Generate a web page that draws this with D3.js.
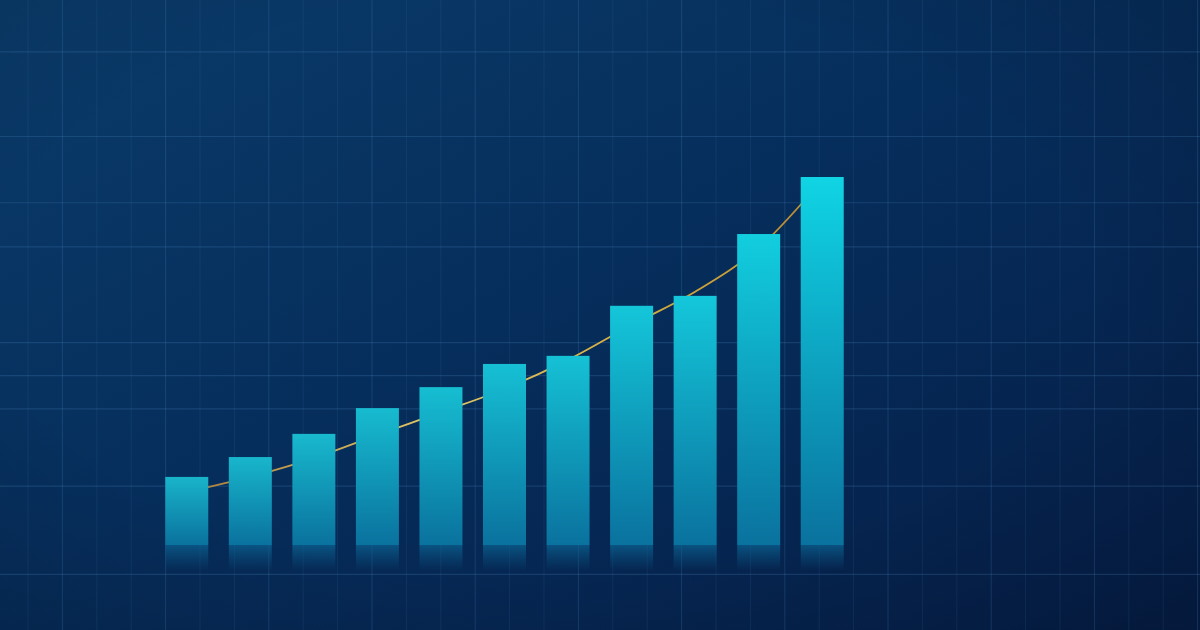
<!DOCTYPE html>
<html>
<head>
<meta charset="utf-8">
<script src="https://cdn.jsdelivr.net/npm/d3@7"></script>
<style>
  html, body { margin: 0; padding: 0; background: #062a55; }
  svg { display: block; }
</style>
</head>
<body>
<svg id="chart" width="1200" height="630"></svg>
<script>
// ---- data ----
const categories = ["P1","P2","P3","P4","P5","P6","P7","P8","P9","P10","P11"];
const values     = [18.5, 23.9, 30.2, 37.2, 42.9, 49.2, 51.4, 65.0, 67.7, 84.5, 100];
const trend      = [14.4, 18.5, 23.6, 29.9, 36.1, 42.4, 50.3, 59.8, 68.8, 80.7, 99.2];
const gridTicksY = [134, 111, 93, 81, 55, 46, 37, 16, -8];

// ---- layout ----
const W = 1200, H = 630;
const margin = { left: 155, right: 346 };
const baseY = 545, topY = 177;

const svg = d3.select("#chart");
const defs = svg.append("defs");

const x = d3.scaleBand()
  .domain(categories)
  .range([margin.left, W - margin.right])
  .paddingInner(0.3234)
  .paddingOuter(0.1617);

const y = d3.scaleLinear().domain([0, 100]).range([baseY, topY]);

// background
const bg = defs.append("linearGradient").attr("id", "bg")
  .attr("x1", "0").attr("y1", "0").attr("x2", "1").attr("y2", "1");
bg.append("stop").attr("offset", "0%").attr("stop-color", "#0a3b6a");
bg.append("stop").attr("offset", "45%").attr("stop-color", "#062e5c");
bg.append("stop").attr("offset", "100%").attr("stop-color", "#051d46");
svg.append("rect").attr("width", W).attr("height", H).attr("fill", "url(#bg)");

// subtle vignette
const vig = defs.append("radialGradient").attr("id", "vig")
  .attr("cx", "0.45").attr("cy", "0.45").attr("r", "0.75");
vig.append("stop").attr("offset", "60%").attr("stop-color", "#000").attr("stop-opacity", 0);
vig.append("stop").attr("offset", "100%").attr("stop-color", "#000").attr("stop-opacity", 0.15);
svg.append("rect").attr("width", W).attr("height", H).attr("fill", "url(#vig)");

// grid
const gx = d3.scaleLinear().domain([0, 34]).range([28, 28 + 34 * 34.4]);
const grid = svg.append("g");
grid.selectAll("line.v").data(d3.range(0, 35)).join("line")
  .attr("class", "v")
  .attr("x1", d => gx(d)).attr("x2", d => gx(d))
  .attr("y1", 0).attr("y2", H)
  .attr("stroke", "#5a9ad0")
  .attr("stroke-opacity", (d, i) => (i % 3 === 1 ? 0.2 : 0.11))
  .attr("stroke-width", 1);
grid.selectAll("line.h").data(gridTicksY).join("line")
  .attr("class", "h")
  .attr("x1", 0).attr("x2", W)
  .attr("y1", d => y(d)).attr("y2", d => y(d))
  .attr("stroke", "#5a9ad0")
  .attr("stroke-opacity", 0.2)
  .attr("stroke-width", 1.2);

// trend line (behind bars)
const tg = defs.append("linearGradient").attr("id", "trendGrad")
  .attr("gradientUnits", "userSpaceOnUse")
  .attr("x1", x(categories[0])).attr("x2", x(categories[categories.length - 1]) + x.bandwidth())
  .attr("y1", 0).attr("y2", 0);
tg.append("stop").attr("offset", "0%").attr("stop-color", "#a5783a");
tg.append("stop").attr("offset", "40%").attr("stop-color", "#e2c865");
tg.append("stop").attr("offset", "75%").attr("stop-color", "#d2a83a");
tg.append("stop").attr("offset", "100%").attr("stop-color", "#b48632");

const line = d3.line()
  .x((d, i) => x(categories[i]) + x.bandwidth() / 2)
  .y(d => y(d))
  .curve(d3.curveMonotoneX);
svg.append("path").datum(trend)
  .attr("d", line)
  .attr("fill", "none")
  .attr("stroke", "url(#trendGrad)")
  .attr("stroke-width", 1.8);

// bar gradients
const topCol = d3.scaleLinear().domain([18, 100]).range(["#19b4ca", "#10d4e4"]);
values.forEach((v, i) => {
  const g = defs.append("linearGradient").attr("id", "bar" + i)
    .attr("x1", 0).attr("y1", 0).attr("x2", 0).attr("y2", 1);
  g.append("stop").attr("offset", "0%").attr("stop-color", topCol(v));
  g.append("stop").attr("offset", "100%").attr("stop-color", "#0a729e");
});
const refl = defs.append("linearGradient").attr("id", "refl")
  .attr("x1", 0).attr("y1", 0).attr("x2", 0).attr("y2", 1);
refl.append("stop").attr("offset", "0%").attr("stop-color", "#0b6696").attr("stop-opacity", 0.7);
refl.append("stop").attr("offset", "100%").attr("stop-color", "#0b5a88").attr("stop-opacity", 0);

const bars = svg.append("g");
bars.selectAll("rect.refl").data(values).join("rect")
  .attr("class", "refl")
  .attr("x", (d, i) => x(categories[i]))
  .attr("width", x.bandwidth())
  .attr("y", y(0))
  .attr("height", y(-7) - y(0))
  .attr("fill", "url(#refl)");
bars.selectAll("rect.bar").data(values).join("rect")
  .attr("class", "bar")
  .attr("x", (d, i) => x(categories[i]))
  .attr("width", x.bandwidth())
  .attr("y", d => y(d))
  .attr("height", d => y(0) - y(d))
  .attr("fill", (d, i) => `url(#bar${i})`);
</script>
</body>
</html>
